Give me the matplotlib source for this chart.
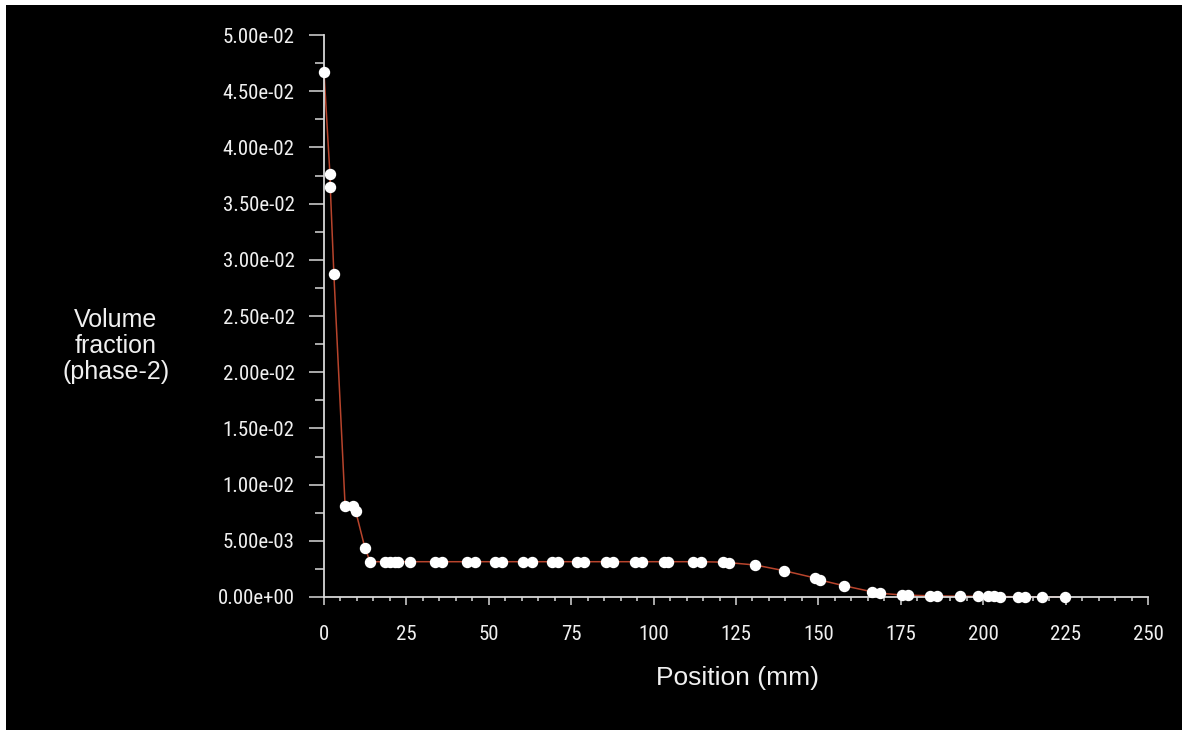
import matplotlib
matplotlib.use("Agg")
import matplotlib.pyplot as plt
from matplotlib import font_manager
from matplotlib.patches import Rectangle
from matplotlib.ticker import MultipleLocator, FuncFormatter

# Sample positions along the line (mm) and phase-2 volume fraction
position_mm = [0.0, 1.8, 1.9, 3.0, 6.4, 8.7, 9.6, 12.4, 14.0,
               18.5, 20.0, 21.5, 22.5, 26.2, 33.7, 35.7, 43.4, 45.7, 51.9,
               54.0, 60.4, 63.1, 69.3, 71.0, 76.8, 79.0, 85.5, 87.7, 94.4,
               96.5, 103.2, 104.3, 112.0, 114.5,
               121.0, 123.0, 130.8, 139.6, 149.0, 150.5, 157.8, 166.2, 168.7,
               175.4, 177.2, 183.9, 185.9, 193.0, 198.4, 201.5, 203.3, 205.0,
               210.6, 212.7, 217.8, 224.8]
volume_fraction = [0.0467, 0.0376, 0.0365, 0.0287, 0.00812, 0.0081, 0.00765, 0.00439, 0.00314,
                   0.00314, 0.00314, 0.00314, 0.00314, 0.00314, 0.00314, 0.00314, 0.00314, 0.00314, 0.00314,
                   0.00314, 0.00314, 0.00314, 0.00314, 0.00314, 0.00314, 0.00314, 0.00314, 0.00314, 0.00314,
                   0.00314, 0.00314, 0.00314, 0.00314, 0.00314,
                   0.00310, 0.00305, 0.00285, 0.00234, 0.00169, 0.00151, 0.00100, 0.00047, 0.00033,
                   0.00018, 0.00016, 0.00011, 0.00010, 0.00007, 0.00006, 0.00005, 0.00005, 0.00004,
                   0.00003, 0.00003, 0.00002, 0.00002]

x_label = "Position (mm)"
y_label = "Volume\nfraction\n(phase-2)"

installed = {f.name for f in font_manager.fontManager.ttflist}
regular = "Liberation Sans" if "Liberation Sans" in installed else "DejaVu Sans"
narrow = regular
tick_size = 12.5
for cand in ("Liberation Sans Narrow", "Arial Narrow", "Roboto Condensed", "Open Sans Condensed"):
    if cand in installed:
        narrow = cand
        tick_size = 15
        break

W, H = 1182, 730
fig = plt.figure(figsize=(W / 100, H / 100), dpi=100, facecolor="white")
# black panel with a thin white margin at the top and left
fig.patches.append(Rectangle((6 / W, 0), 1 - 6 / W, 1 - 5 / H, transform=fig.transFigure,
                             facecolor="black", edgecolor="none", zorder=-5))

ax = fig.add_axes([324 / W, (H - 597) / H, (1148 - 324) / W, (597 - 35) / H])
ax.patch.set_alpha(0)

ax.plot(position_mm, volume_fraction, color="#b8442c", lw=1.1, zorder=2, clip_on=False)
ax.plot(position_mm, volume_fraction, ls="none", marker="o", ms=7.2,
        mfc="white", mec="white", zorder=3, clip_on=False)

ax.set_xlim(0, 250)
ax.set_ylim(0, 0.05)

for side in ("top", "right"):
    ax.spines[side].set_visible(False)
for side in ("left", "bottom"):
    ax.spines[side].set_color("#d8d8d8")
    ax.spines[side].set_linewidth(1.3)

ax.xaxis.set_major_locator(MultipleLocator(25))
ax.xaxis.set_minor_locator(MultipleLocator(5))
ax.yaxis.set_major_locator(MultipleLocator(0.005))
ax.yaxis.set_minor_locator(MultipleLocator(0.0025))
ax.yaxis.set_major_formatter(FuncFormatter(lambda v, p: f"{v:.2e}"))
ax.xaxis.set_major_formatter(FuncFormatter(lambda v, p: f"{v:g}"))

ax.tick_params(axis="y", which="major", length=11, width=1.1, color="#d8d8d8",
               labelcolor="#f0f0f0", pad=10, labelsize=tick_size)
ax.tick_params(axis="y", which="minor", length=6.5, width=1.1, color="#d8d8d8")
ax.tick_params(axis="x", which="major", length=6, width=1.1, color="#d8d8d8",
               labelcolor="#f0f0f0", pad=14, labelsize=tick_size)
ax.tick_params(axis="x", which="minor", length=3, width=1.1, color="#d8d8d8")
for lab in ax.get_xticklabels() + ax.get_yticklabels():
    lab.set_fontfamily(narrow)

fig.text(737 / W, 1 - 678 / H, x_label, color="#f0f0f0", fontsize=19, family=regular,
         ha="center", va="center")
fig.text(116 / W, 1 - 346 / H, y_label, color="#f0f0f0", fontsize=18, family=regular,
         ha="center", va="center", multialignment="center", linespacing=1.1)

fig.savefig("out.png", dpi=100, facecolor="white")
